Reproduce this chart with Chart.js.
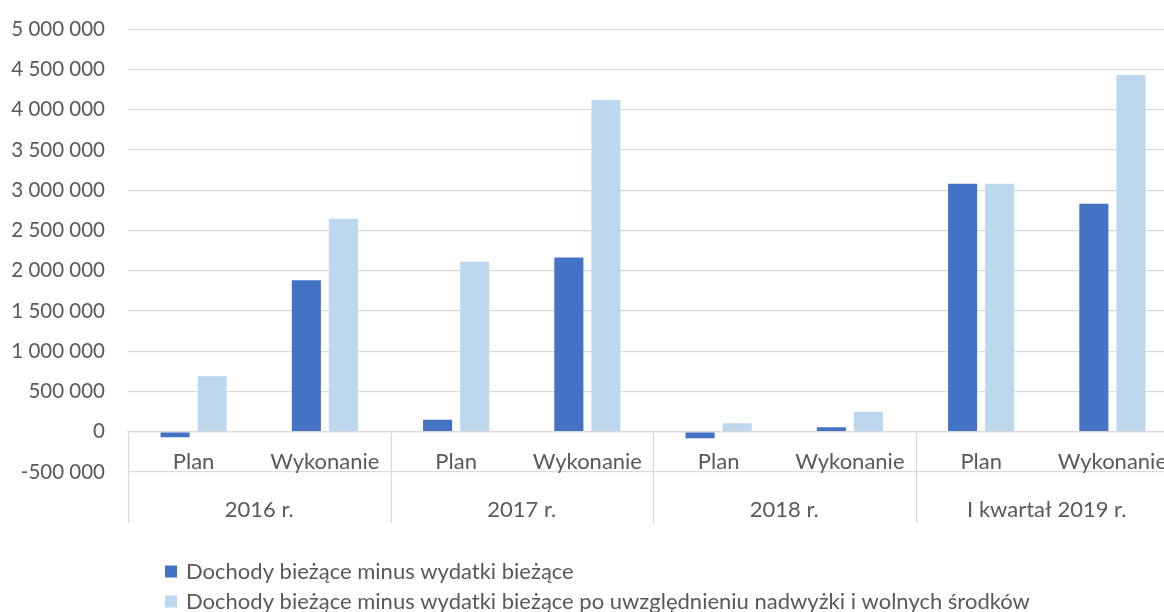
<!DOCTYPE html>
<html>
<head>
<meta charset="utf-8">
<script src="https://cdn.jsdelivr.net/npm/chart.js@4.4.1/dist/chart.umd.min.js"></script>
<style>
html,body{margin:0;padding:0;background:#fff;overflow:hidden;}
#wrap{width:1164px;height:612px;position:relative;overflow:hidden;}
</style>
</head>
<body>
<div id="wrap"><canvas id="c" width="1184" height="612"></canvas></div>
<script>
const groups = ['2016 r.', '2017 r.', '2018 r.', 'I kwartał 2019 r.'];
const subLabels = ['Plan', 'Wykonanie'];
const categories = ['Plan', 'Wykonanie', 'Plan', 'Wykonanie', 'Plan', 'Wykonanie', 'Plan', 'Wykonanie'];
const seriesNames = ['Dochody bieżące minus wydatki bieżące',
  'Dochody bieżące minus wydatki bieżące po uwzględnieniu nadwyżki i wolnych środków'];
const dochodyMinusWydatki = [-68000, 1880000, 150000, 2165000, -82000, 56000, 3080000, 2832000];
const poUwzglednieniu = [690000, 2645000, 2110000, 4120000, 104000, 249000, 3080000, 4432000];
const yTicks = [-500000, 0, 500000, 1000000, 1500000, 2000000, 2500000, 3000000, 3500000, 4000000, 4500000, 5000000];

const FONT = 'Lato, "Open Sans", sans-serif';
const TEXT = '#595959';
const GRID = '#D9D9D9';
const colors = ['#4472C4', '#BDD7EE'];

function fmt(v){
  const s = Math.abs(v).toString().replace(/\B(?=(\d{3})+(?!\d))/g, ' ');
  return (v < 0 ? '-' : '') + s;
}

const overlay = {
  id: 'overlay',
  afterDraw(chart){
    const ctx = chart.ctx, xs = chart.scales.x, ys = chart.scales.y;
    const y0 = Math.round(ys.getPixelForValue(0)) + 0.5;
    const catW = (xs.right - xs.left) / categories.length;
    const sepBottom = ys.bottom + 51;
    ctx.save();
    ctx.strokeStyle = GRID;
    ctx.lineWidth = 1.3;
    for (let g = 0; g < groups.length; g++){
      const x = Math.round(xs.left + g * subLabels.length * catW) + 0.5;
      ctx.beginPath();
      ctx.moveTo(x, y0);
      ctx.lineTo(x, sepBottom);
      ctx.stroke();
    }
    ctx.fillStyle = TEXT;
    ctx.font = '22px ' + FONT;
    ctx.textAlign = 'center';
    ctx.textBaseline = 'middle';
    groups.forEach((g, i) => {
      const cx = xs.left + (i * subLabels.length + subLabels.length / 2) * catW;
      ctx.fillText(g, cx, ys.bottom + 37.5);
    });
    // legend
    ctx.textAlign = 'left';
    seriesNames.forEach((n, i) => {
      const ly = ys.bottom + 99.5 + i * 30;
      ctx.fillStyle = colors[i];
      ctx.fillRect(165, ly - 6, 12, 12);
      ctx.fillStyle = TEXT;
      ctx.fillText(n, 186, ly);
    });
    ctx.restore();
  }
};

new Chart(document.getElementById('c'), {
  type: 'bar',
  data: {
    labels: categories,
    datasets: [
      { label: seriesNames[0], data: dochodyMinusWydatki, backgroundColor: colors[0] },
      { label: seriesNames[1], data: poUwzglednieniu, backgroundColor: colors[1] }
    ]
  },
  options: {
    responsive: false,
    animation: false,
    events: [],
    layout: { padding: { top: 20, right: 0, bottom: 140, left: 0 } },
    datasets: { bar: { categoryPercentage: 0.565, barPercentage: 0.784 } },
    plugins: { legend: { display: false }, tooltip: { enabled: false } },
    scales: {
      x: {
        position: { y: 0 },
        grid: { display: false, drawTicks: false },
        border: { display: true, color: GRID, width: 1.3 },
        ticks: { color: TEXT, font: { family: FONT, size: 22 }, padding: 17, maxRotation: 0, autoSkip: false }
      },
      y: {
        min: -500000, max: 5000000,
        afterBuildTicks(scale){ scale.ticks = yTicks.map(v => ({ value: v })); },
        afterFit(scale){ scale.width = 128; },
        grid: { color: GRID, lineWidth: 1.3, drawTicks: false },
        border: { display: false },
        ticks: { color: TEXT, font: { family: FONT, size: 20.5, lineHeight: 0.6 }, padding: 23, callback: v => fmt(v) }
      }
    }
  },
  plugins: [overlay]
});
</script>
</body>
</html>
